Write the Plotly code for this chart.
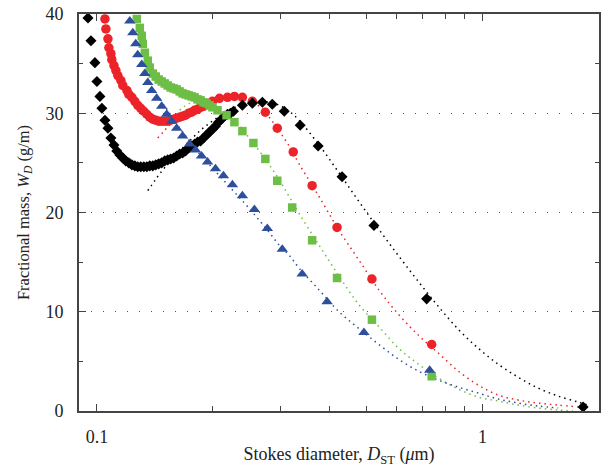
import plotly.graph_objects as go

# ---- measured data (Stokes diameter in um, fractional mass in g/m) ----
black_x = [0.0948, 0.0965, 0.0988, 0.1000, 0.1018, 0.1030, 0.1049,
           0.1068, 0.1087, 0.1107, 0.1126, 0.1147, 0.1167, 0.1188, 0.1210, 0.1232, 0.1254,
           0.1276, 0.1299, 0.1323, 0.1347, 0.1371, 0.1396, 0.1421, 0.1446, 0.1472, 0.1499,
           0.1526, 0.1553, 0.1581, 0.1610, 0.1639, 0.1668, 0.1698, 0.1729, 0.1760, 0.1792,
           0.1824, 0.1857, 0.1890, 0.1924, 0.1959, 0.1994, 0.2030, 0.2067, 0.2104, 0.2142,
           0.2181, 0.2220, 0.2260,
           0.2384, 0.2530, 0.2686, 0.2850, 0.3061, 0.3367, 0.3748, 0.4323, 0.5230, 0.7166, 1.824]
black_y = [39.6, 37.3, 35.1, 33.2, 31.7, 30.5, 29.3,
           28.5, 27.5, 26.8, 26.2, 25.8, 25.5, 25.2, 25.0, 24.8, 24.7,
           24.6, 24.6, 24.6, 24.6, 24.7, 24.7, 24.8, 24.9, 25.0, 25.2,
           25.3, 25.4, 25.5, 25.7, 25.9, 26.0, 26.2, 26.5, 26.7, 26.9,
           27.1, 27.2, 27.5, 27.8, 28.1, 28.4, 28.7, 29.1, 29.4, 29.7,
           29.9, 30.0, 30.2,
           30.8, 31.0, 31.1, 30.9, 30.2, 28.8, 26.7, 23.6, 18.7, 11.3, 0.4]

red_x = [0.1049, 0.1055, 0.1068, 0.1074, 0.1087, 0.1093, 0.1107, 0.1120, 0.1133, 0.1154,
         0.1167, 0.1196, 0.1210, 0.1232, 0.1254, 0.1276, 0.1299, 0.1323, 0.1347, 0.1371,
         0.1396, 0.1421, 0.1446, 0.1472, 0.1499, 0.1526, 0.1553, 0.1581, 0.1610, 0.1639,
         0.1668, 0.1698, 0.1729, 0.1760, 0.1792, 0.1824, 0.1857, 0.1890, 0.1924, 0.1959,
         0.1994,
         0.2079, 0.2181, 0.2273, 0.2384, 0.2530, 0.2734, 0.2936, 0.3230, 0.3616, 0.4196,
         0.5168, 0.7384]
red_y = [39.5, 38.5, 37.5, 36.6, 36.0, 35.4, 34.8, 34.3, 33.8, 33.3,
         32.8, 32.3, 31.9, 31.6, 31.2, 30.8, 30.5, 30.2, 29.9, 29.6,
         29.4, 29.3, 29.2, 29.2, 29.2, 29.2, 29.3, 29.4, 29.5, 29.6,
         29.7, 29.8, 30.0, 30.1, 30.3, 30.4, 30.6, 30.7, 30.9, 31.0,
         31.2,
         31.5, 31.6, 31.7, 31.6, 31.2, 30.1, 28.5, 26.1, 22.7, 18.5,
         13.3, 6.7]

green_x = [0.1269, 0.1292, 0.1307, 0.1315, 0.1331, 0.1355, 0.1371, 0.1396, 0.1421, 0.1446,
           0.1472, 0.1499, 0.1526, 0.1553, 0.1581, 0.1610, 0.1639, 0.1668, 0.1698, 0.1729,
           0.1760, 0.1792, 0.1824, 0.1857, 0.1890, 0.1924, 0.1959, 0.1994,
           0.2055, 0.2168, 0.2273, 0.2384, 0.2546, 0.2734, 0.2936, 0.3210, 0.3616, 0.4196,
           0.5168, 0.7384]
green_y = [39.5, 38.6, 37.8, 37.0, 36.1, 35.3, 34.6, 34.0, 33.7, 33.4,
           33.2, 33.0, 32.8, 32.6, 32.5, 32.4, 32.2, 32.0, 31.9, 31.8,
           31.7, 31.6, 31.4, 31.3, 31.1, 31.0, 30.8, 30.6,
           30.3, 29.8, 29.1, 28.2, 27.0, 25.4, 23.2, 20.5, 17.2, 13.4,
           9.2, 3.5]

blue_x = [0.1217, 0.1239, 0.1261, 0.1276, 0.1307, 0.1331, 0.1355, 0.1387, 0.1429, 0.1472,
          0.1517, 0.1563, 0.1610, 0.1668, 0.1739, 0.1802, 0.1868, 0.1936, 0.2030, 0.2129,
          0.2246, 0.2384, 0.2561, 0.2767, 0.3025, 0.3407, 0.3954, 0.4927, 0.7297]
blue_y = [39.3, 38.1, 37.0, 35.9, 34.9, 34.0, 33.1, 32.3, 31.5, 30.7,
          29.9, 29.2, 28.5, 27.7, 26.9, 26.3, 25.7, 25.1, 24.4, 23.7,
          22.8, 21.7, 20.3, 18.4, 16.3, 13.8, 11.0, 7.9, 4.1]

# ---- fitted distributions (dotted curves) ----
black_fit_x = [0.1355, 0.1412, 0.1455, 0.1544, 0.1639, 0.1739, 0.1846, 0.1959, 0.2079, 0.2207,
               0.2342, 0.2485, 0.2638, 0.2799, 0.2971, 0.3152, 0.3345, 0.3769, 0.4245, 0.4783,
               0.5387, 0.6067, 0.6834, 0.7698, 0.8670, 0.9766, 1.0998, 1.2388, 1.3953, 1.5718,
               1.7705, 1.879]
black_fit_y = [22.2, 23.2, 23.9, 25.1, 26.2, 27.2, 28.2, 29.0, 29.7, 30.3,
               30.8, 31.1, 31.2, 31.1, 30.8, 30.2, 29.3, 26.8, 24.0, 21.1,
               18.3, 15.6, 13.0, 10.5, 8.2, 6.3, 4.7, 3.4, 2.3, 1.5,
               0.9, 0.6]

red_fit_x = [0.1438, 0.1544, 0.1639, 0.1739, 0.1846, 0.1959, 0.2079, 0.2207, 0.2342, 0.2485,
             0.2638, 0.2799, 0.2971, 0.3152, 0.3345, 0.3769, 0.4245, 0.4783, 0.5387, 0.6067,
             0.6834, 0.7698, 0.8670, 0.9766, 1.0998, 1.2388, 1.3953, 1.5718, 1.7705]
red_fit_y = [27.5, 28.8, 29.7, 30.4, 30.9, 31.3, 31.6, 31.7, 31.6, 31.3,
             30.7, 29.6, 28.2, 26.7, 24.9, 21.6, 18.2, 15.2, 12.2, 9.7,
             7.6, 5.8, 4.0, 2.6, 1.6, 1.1, 0.8, 0.6, 0.4]

green_fit_x = [0.1639, 0.1739, 0.1846, 0.1959, 0.2079, 0.2207, 0.2342, 0.2485, 0.2638, 0.2799,
               0.2971, 0.3152, 0.3345, 0.3769, 0.4245, 0.4783, 0.5387, 0.6067, 0.6834, 0.7698,
               0.8670, 0.9766, 1.0998, 1.2388, 1.3953, 1.5718, 1.718]
green_fit_y = [30.3, 31.0, 31.2, 31.0, 30.5, 29.7, 28.7, 27.5, 26.2, 24.8,
               23.3, 21.6, 19.9, 16.7, 13.6, 10.7, 8.5, 6.3, 4.7, 3.3,
               2.2, 1.4, 1.0, 0.6, 0.3, 0.1, 0.0]

blue_fit_x = [0.1455, 0.1544, 0.1639, 0.1739, 0.1846, 0.1959, 0.2079, 0.2207, 0.2342, 0.2485,
              0.2638, 0.2799, 0.2971, 0.3152, 0.3345, 0.3769, 0.4245, 0.4783, 0.5387, 0.6067,
              0.6834, 0.7698, 0.8670, 0.9766, 1.0998, 1.2388, 1.3953, 1.5718]
blue_fit_y = [31.4, 30.0, 28.5, 27.2, 25.9, 24.8, 23.7, 22.6, 21.5, 20.4,
              19.2, 18.0, 16.7, 15.7, 14.4, 12.2, 10.0, 8.3, 6.7, 5.2,
              4.0, 3.1, 2.4, 1.8, 1.2, 0.8, 0.5, 0.3]

x_major_ticks = [0.1, 1]
x_major_labels = ["0.1", "1"]
x_minor_ticks = [0.2, 0.3, 0.4, 0.5, 0.6, 0.7, 0.8, 0.9, 2]
y_major_ticks = [0, 10, 20, 30, 40]

BLACK = "#000000"
RED = "#ec2329"
GREEN = "#6dbe45"
BLUE = "#2d4f9e"
DOT = "1.5px,4px"

fig = go.Figure()

for fx, fy, col in [(black_fit_x, black_fit_y, BLACK), (red_fit_x, red_fit_y, RED),
                    (green_fit_x, green_fit_y, GREEN), (blue_fit_x, blue_fit_y, BLUE)]:
    fig.add_trace(go.Scatter(x=fx, y=fy, mode="lines", line=dict(color=col, width=1.5, dash=DOT),
                             line_shape="spline", hoverinfo="skip"))

fig.add_trace(go.Scatter(x=red_x, y=red_y, mode="markers",
                         marker=dict(symbol="circle", size=9.5, color=RED, line=dict(width=0))))
fig.add_trace(go.Scatter(x=black_x, y=black_y, mode="markers",
                         marker=dict(symbol="diamond", size=8.5, color=BLACK, line=dict(width=0))))
fig.add_trace(go.Scatter(x=green_x, y=green_y, mode="markers",
                         marker=dict(symbol="square", size=8.5, color=GREEN, line=dict(width=0))))
fig.add_trace(go.Scatter(x=blue_x, y=blue_y, mode="markers",
                         marker=dict(symbol="triangle-up", size=10, color=BLUE, line=dict(width=0))))

FONT = "Liberation Serif, Times New Roman, serif"
AX = "#444444"

fig.update_layout(
    width=605, height=467,
    margin=dict(l=79, r=4, t=12, b=55),
    paper_bgcolor="white", plot_bgcolor="white",
    showlegend=False,
    font=dict(family=FONT, size=18, color="#222222"),
    xaxis=dict(
        type="log", range=[-1.0465, 0.3023],
        tickmode="array", tickvals=x_major_ticks, ticktext=x_major_labels,
        ticks="inside", ticklen=7, tickwidth=1, tickcolor=AX,
        minor=dict(tickmode="array", tickvals=x_minor_ticks, ticks="inside",
                   ticklen=5, tickwidth=1, tickcolor=AX, showgrid=False),
        ticklabelstandoff=8,
        showline=True, linecolor=AX, linewidth=2, mirror="ticks",
        showgrid=False, zeroline=False,
        title=dict(text="Stokes diameter, <i>D</i><sub>ST</sub> (<i>μ</i>m)",
                   font=dict(size=18), standoff=4),
        tickfont=dict(size=18),
    ),
    yaxis=dict(
        range=[0, 40], tickmode="array", tickvals=y_major_ticks,
        ticks="inside", ticklen=7, tickwidth=1, tickcolor=AX,
        minor=dict(dtick=5, tick0=0, ticks="inside", ticklen=4, tickcolor=AX, showgrid=False),
        ticklabelstandoff=10,
        showline=True, linecolor=AX, linewidth=2, mirror="ticks",
        showgrid=True, gridcolor="#555555", gridwidth=1, griddash="1px,11px",
        zeroline=False,
        title=dict(text="Fractional mass, <i>W<sub>D</sub></i> (g/m)",
                   font=dict(size=16.5), standoff=12),
        tickfont=dict(size=18),
    ),
)

fig.write_html("out.html")
